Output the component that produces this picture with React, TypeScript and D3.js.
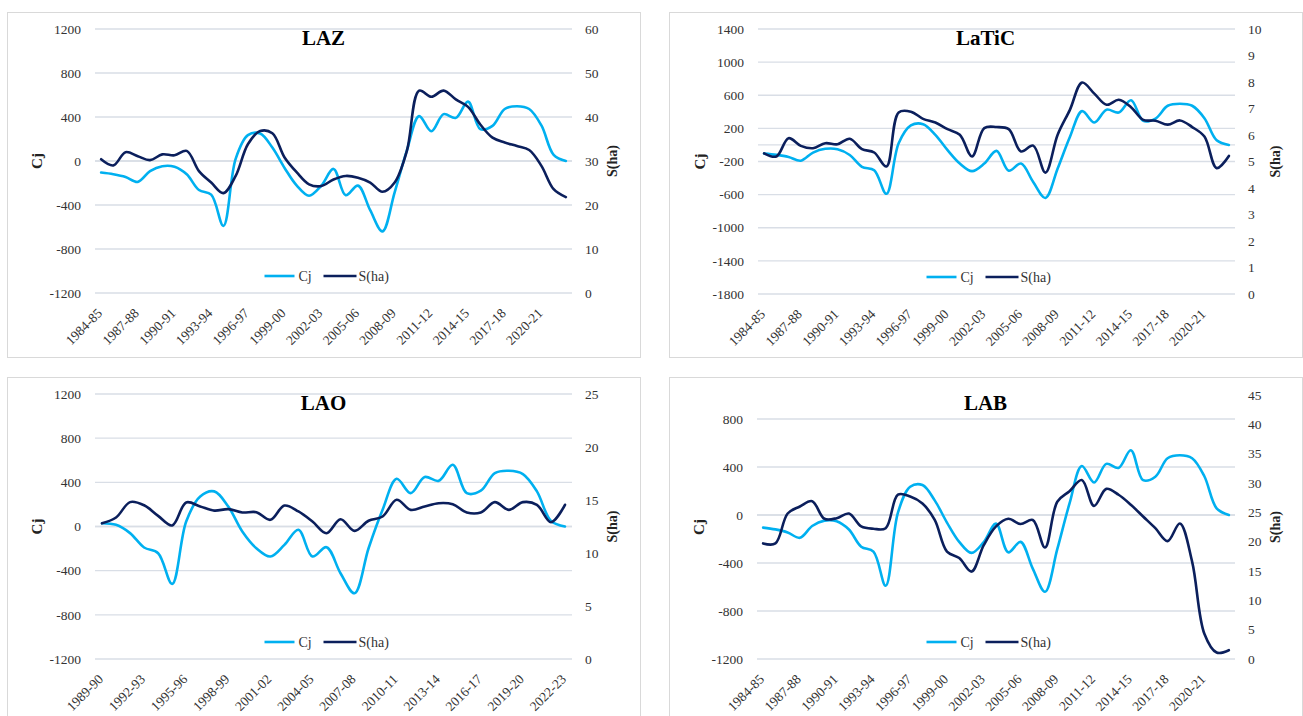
import React from 'react';
import * as d3 from 'd3';

const yearsFull = ['1984-85','1985-86','1986-87','1987-88','1988-89','1989-90','1990-91','1991-92','1992-93','1993-94','1994-95','1995-96','1996-97','1997-98','1998-99','1999-00','2000-01','2001-02','2002-03','2003-04','2004-05','2005-06','2006-07','2007-08','2008-09','2009-10','2010-11','2011-12','2012-13','2013-14','2014-15','2015-16','2016-17','2017-18','2018-19','2019-20','2020-21','2021-22','2022-23'];
const yearsLAO = ['1989-90','1990-91','1991-92','1992-93','1993-94','1994-95','1995-96','1996-97','1997-98','1998-99','1999-00','2000-01','2001-02','2002-03','2003-04','2004-05','2005-06','2006-07','2007-08','2008-09','2009-10','2010-11','2011-12','2012-13','2013-14','2014-15','2015-16','2016-17','2017-18','2018-19','2019-20','2020-21','2021-22','2022-23'];

const cjCommon = [-105,-120,-145,-190,-92,-47,-52,-121,-264,-306,-590,20,235,250,122,-63,-224,-316,-225,-72,-311,-224,-447,-640,-285,96,408,271,426,392,540,290,319,473,498,473,323,56,0];
const sLAZ = [30.4,29.0,32.0,31.1,30.2,31.5,31.3,32.3,27.7,25.1,22.7,26.6,33.8,36.8,36.3,30.8,27.4,24.7,24.3,25.8,26.6,26.2,25.1,23.0,25.1,32.3,46.0,44.6,46.0,44.0,42.3,38.3,35.3,34.2,33.4,32.5,28.9,23.6,21.8];
const sLaTiC = [5.31,5.19,5.88,5.59,5.5,5.69,5.65,5.86,5.47,5.34,4.81,6.85,6.88,6.61,6.47,6.22,6.01,5.19,6.26,6.3,6.22,5.38,5.6,4.58,6.01,6.95,7.98,7.56,7.14,7.33,7.05,6.57,6.54,6.39,6.55,6.3,5.94,4.75,5.21];
const cjLAO = [30,15,-60,-190,-242,-520,45,272,318,181,-45,-197,-272,-166,-30,-272,-187,-423,-605,-197,151,432,302,448,414,559,302,324,484,505,475,318,51,0];
const sLAO = [12.8,13.35,14.8,14.5,13.5,12.6,14.77,14.39,14.0,14.14,13.82,13.85,13.13,14.48,13.92,12.97,11.87,13.19,12.09,13.04,13.44,15.02,14.07,14.39,14.7,14.6,13.82,13.82,14.8,14.07,14.8,14.55,12.9,14.55];
const sLAB = [19.7,19.7,24.8,26.0,26.9,23.9,24.0,24.8,22.6,22.2,22.3,28.0,27.7,26.5,23.7,18.3,17.2,14.9,19.4,22.6,23.9,23.0,23.7,19.0,26.8,28.6,30.5,26.1,29.0,28.0,26.3,24.3,22.3,20.1,23.1,16.6,4.3,1.1,1.5];

const leftTicksLAZ = [-1200,-800,-400,0,400,800,1200];
const leftTicksLaTiC = [-1800,-1400,-1000,-600,-200,200,600,1000,1400];
const leftTicksLAO = [-1200,-800,-400,0,400,800,1200];
const leftTicksLAB = [-1200,-800,-400,0,400,800];
const rightTicksLAZ = [0,10,20,30,40,50,60];
const rightTicksLaTiC = [0,1,2,3,4,5,6,7,8,9,10];
const rightTicksLAO = [0,5,10,15,20,25];
const rightTicksLAB = [0,5,10,15,20,25,30,35,40,45];

const LIGHT = '#00B0F0';
const DARK = '#0B1F5C';
const GRID = '#D9DEE6';
const TEXT = '#333333';
const FONT = '"Liberation Serif", "Times New Roman", serif';

type PanelDef = {
  title: string;
  box: { x: number; y: number; w: number; h: number };
  plot: { x: number; y: number; w: number; h: number };
  cats: string[];
  cj: number[];
  s: number[];
  leftDomain: [number, number];
  rightDomain: [number, number];
  leftTicks: number[];
  rightTicks: number[];
};

const panels: PanelDef[] = [
  { title: 'LAZ', box: { x: 7, y: 12, w: 633, h: 345 }, plot: { x: 95, y: 29, w: 477, h: 264 }, cats: yearsFull, cj: cjCommon, s: sLAZ, leftDomain: [-1200, 1200], rightDomain: [0, 60], leftTicks: leftTicksLAZ, rightTicks: rightTicksLAZ },
  { title: 'LaTiC', box: { x: 669, y: 12, w: 633, h: 345 }, plot: { x: 758, y: 29, w: 477, h: 265 }, cats: yearsFull, cj: cjCommon, s: sLaTiC, leftDomain: [-1800, 1400], rightDomain: [0, 10], leftTicks: leftTicksLaTiC, rightTicks: rightTicksLaTiC },
  { title: 'LAO', box: { x: 7, y: 377, w: 633, h: 345 }, plot: { x: 95, y: 394, w: 477, h: 265 }, cats: yearsLAO, cj: cjLAO, s: sLAO, leftDomain: [-1200, 1200], rightDomain: [0, 25], leftTicks: leftTicksLAO, rightTicks: rightTicksLAO },
  { title: 'LAB', box: { x: 669, y: 377, w: 633, h: 345 }, plot: { x: 757, y: 395, w: 478, h: 264 }, cats: yearsFull, cj: cjCommon, s: sLAB, leftDomain: [-1200, 1000], rightDomain: [0, 45], leftTicks: leftTicksLAB, rightTicks: rightTicksLAB },
];

function Panel({ p }: { p: PanelDef }) {
  const { plot, box } = p;
  const x = d3.scaleBand<string>().domain(p.cats).range([plot.x, plot.x + plot.w]).paddingInner(0).paddingOuter(0);
  const cx = (c: string) => (x(c) as number) + x.bandwidth() / 2;
  const yL = d3.scaleLinear().domain(p.leftDomain).range([plot.y + plot.h, plot.y]);
  const yR = d3.scaleLinear().domain(p.rightDomain).range([plot.y + plot.h, plot.y]);
  const curve = d3.curveCatmullRom.alpha(0.5);
  const lineCj = d3.line<number>().x((_, i) => cx(p.cats[i])).y((d) => yL(d)).curve(curve);
  const lineS = d3.line<number>().x((_, i) => cx(p.cats[i])).y((d) => yR(d)).curve(curve);
  const bottom = plot.y + plot.h;
  const midY = plot.y + plot.h / 2;
  const centerX = box.x + box.w / 2;
  const legY = bottom - 17;
  const legX = centerX - 59;
  return (
    <g>
      <rect x={box.x + 0.5} y={box.y + 0.5} width={box.w} height={box.h} fill="#fff" stroke="#D9D9D9" strokeWidth={1} />
      {p.leftTicks.map((t) => (
        <line key={'g' + t} x1={plot.x} x2={plot.x + plot.w} y1={yL(t)} y2={yL(t)} stroke={GRID} strokeWidth={1.3} />
      ))}
      <line x1={plot.x} x2={plot.x + plot.w} y1={yL(0)} y2={yL(0)} stroke={GRID} strokeWidth={1.3} />
      {p.leftTicks.map((t) => (
        <text key={'l' + t} x={plot.x - 14} y={yL(t)} dy="0.35em" textAnchor="end" fontSize={13.5} fill={TEXT} fontFamily={FONT}>{t}</text>
      ))}
      {p.rightTicks.map((t) => (
        <text key={'r' + t} x={plot.x + plot.w + 13} y={yR(t)} dy="0.35em" textAnchor="start" fontSize={13.5} fill={TEXT} fontFamily={FONT}>{t}</text>
      ))}
      {p.cats.filter((_, i) => i % 3 === 0).map((c) => (
        <text key={'x' + c} transform={`translate(${cx(c) + 2},${bottom + 21}) rotate(-45)`} textAnchor="end" fontSize={13.5} fill={TEXT} fontFamily={FONT}>{c}</text>
      ))}
      <text transform={`translate(${plot.x - 53},${midY}) rotate(-90)`} textAnchor="middle" fontSize={15} fontWeight="bold" fill="#222" fontFamily={FONT}>Cj</text>
      <text transform={`translate(${plot.x + plot.w + 45},${midY}) rotate(-90)`} textAnchor="middle" fontSize={14} fontWeight="bold" fill="#222" fontFamily={FONT}>S(ha)</text>
      <text x={centerX} y={box.y + 33} textAnchor="middle" fontSize={21} fontWeight="bold" fill="#000" fontFamily={FONT}>{p.title}</text>
      <path d={lineCj(p.cj) || ''} fill="none" stroke={LIGHT} strokeWidth={2.6} strokeLinejoin="round" strokeLinecap="round" />
      <path d={lineS(p.s) || ''} fill="none" stroke={DARK} strokeWidth={2.6} strokeLinejoin="round" strokeLinecap="round" />
      <line x1={legX} x2={legX + 30} y1={legY} y2={legY} stroke={LIGHT} strokeWidth={2.6} />
      <text x={legX + 34} y={legY} dy="0.35em" fontSize={14} fill={TEXT} fontFamily={FONT}>Cj</text>
      <line x1={legX + 59} x2={legX + 92} y1={legY} y2={legY} stroke={DARK} strokeWidth={2.6} />
      <text x={legX + 94} y={legY} dy="0.35em" fontSize={14} fill={TEXT} fontFamily={FONT}>S(ha)</text>
    </g>
  );
}

export default function App() {
  return (
    <svg width={1303} height={716} style={{ position: 'absolute', left: 0, top: 0, background: '#fff' }}>
      <rect x={0} y={0} width={1303} height={716} fill="#fff" />
      {panels.map((p) => (
        <Panel key={p.title} p={p} />
      ))}
    </svg>
  );
}
